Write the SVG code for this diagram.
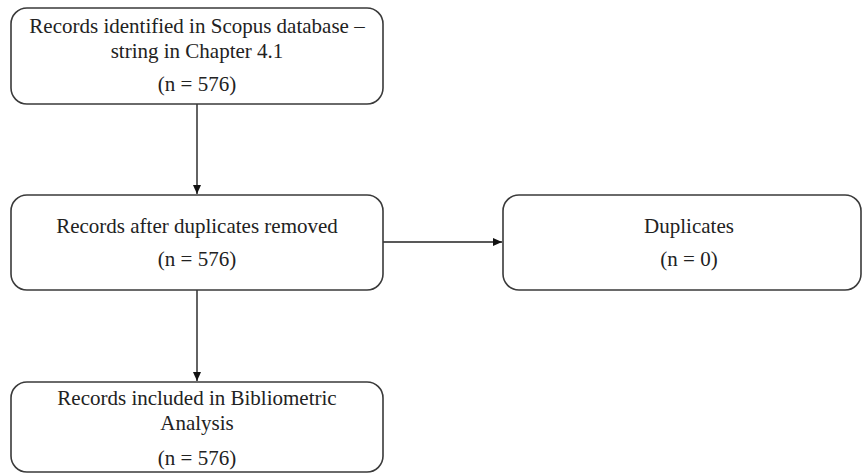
<svg xmlns="http://www.w3.org/2000/svg" width="864" height="475" viewBox="0 0 864 475">
<defs>
<style>
.box{fill:#fff;stroke:#3a3a3a;stroke-width:1.6}
.t{font-family:"Liberation Serif","Times New Roman",serif;font-size:21px;fill:#222;text-anchor:middle}
.c{stroke:#222;stroke-width:1.4;fill:none}
</style>
<marker id="ah" markerWidth="10" markerHeight="10" refX="9" refY="5" orient="auto" markerUnits="userSpaceOnUse">
<path d="M0,1 L9,5 L0,9 Z" fill="#111"/>
</marker>
</defs>
<rect width="864" height="475" fill="#fff"/>
<g id="connectors">
<line class="c" x1="197" y1="104" x2="197" y2="194" marker-end="url(#ah)"/>
<line class="c" x1="383" y1="242" x2="502" y2="242" marker-end="url(#ah)"/>
<line class="c" x1="197" y1="290" x2="197" y2="381" marker-end="url(#ah)"/>
</g>
<g id="n1">
<rect class="box" x="11" y="8" width="372" height="96" rx="16"/>
<text class="t" x="197" y="33">Records identified in Scopus database –</text>
<text class="t" x="197" y="58">string in Chapter 4.1</text>
<text class="t" x="197" y="91">(n = 576)</text>
</g>
<g id="n2">
<rect class="box" x="11" y="195" width="372" height="95" rx="16"/>
<text class="t" x="197" y="233">Records after duplicates removed</text>
<text class="t" x="197" y="266">(n = 576)</text>
</g>
<g id="n3">
<rect class="box" x="503" y="195" width="358" height="95" rx="16"/>
<text class="t" x="689" y="233">Duplicates</text>
<text class="t" x="689" y="266">(n = 0)</text>
</g>
<g id="n4">
<rect class="box" x="11" y="382" width="372" height="90" rx="16"/>
<text class="t" x="197" y="405">Records included in Bibliometric</text>
<text class="t" x="197" y="430">Analysis</text>
<text class="t" x="197" y="465">(n = 576)</text>
</g>
</svg>
